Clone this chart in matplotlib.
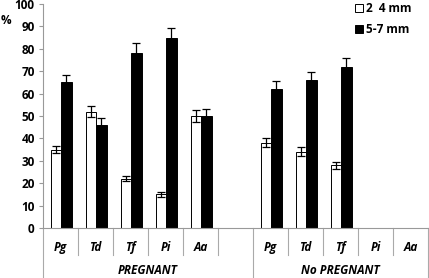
import numpy as np
import matplotlib.pyplot as plt

plt.rcParams['font.family'] = ['Open Sans', 'DejaVu Sans']
plt.rcParams['font.weight'] = 'bold'

# Datos
species = ['Pg', 'Td', 'Tf', 'Pi', 'Aa', '', 'Pg', 'Td', 'Tf', 'Pi', 'Aa']
groups = ['PREGNANT', 'No PREGNANT']
small = [35, 52, 22, 15, 50, np.nan, 38, 34, 28, np.nan, np.nan]
small_err = [1.5, 2.5, 1, 1, 2.5, np.nan, 2, 2, 1.5, np.nan, np.nan]
large = [65, 46, 78, 85, 50, np.nan, 62, 66, 72, np.nan, np.nan]
large_err = [3.5, 3, 4.5, 4.5, 3, np.nan, 3.5, 3.5, 4, np.nan, np.nan]

fig = plt.figure(figsize=(4.29, 2.78), dpi=100)
ax = fig.add_axes([43 / 429, 50 / 278, 385 / 429, 224 / 278])

x = np.arange(len(species))
w = 0.3
ekw = dict(ecolor='black', elinewidth=0.9, capsize=3, capthick=0.9)
ax.bar(x + 0.37, small, w, yerr=small_err, color='white', edgecolor='black',
       linewidth=0.7, error_kw=ekw, label='2  4 mm')
ax.bar(x + 0.67, large, w, yerr=large_err, color='black', edgecolor='black',
       linewidth=0.7, error_kw=ekw, label='5-7 mm')

ax.set_xlim(0, len(species))
ax.set_ylim(0, 100)
ax.set_yticks(range(0, 101, 10))
ax.tick_params(axis='y', labelsize=8.5, length=3, color='#999999', pad=3)
ax.set_xticks([])
for s in ['top', 'right']:
    ax.spines[s].set_visible(False)
for s in ['left', 'bottom']:
    ax.spines[s].set_color('#999999')
    ax.spines[s].set_linewidth(0.8)

# Etiquetas de categorías y separadores
tr = ax.get_xaxis_transform()
for i, sp in enumerate(species):
    ax.text(i + 0.5, -0.085, sp, transform=tr, ha='center', va='center',
            fontsize=8.5, style='italic')
for i in range(len(species) + 1):
    y0 = -0.225 if i in (0, 6, 11) else -0.12
    ax.plot([i, i], [0, y0], transform=tr, color='#aaaaaa', lw=0.8,
            clip_on=False)
ax.text(3, -0.19, groups[0], transform=tr, ha='center', va='center',
        fontsize=8.5, style='italic')
ax.text(8.5, -0.19, groups[1], transform=tr, ha='center', va='center',
        fontsize=8.5, style='italic')

fig.text(1 / 429, 1 - 20 / 278, '%', fontsize=8.5, va='center')

ax.legend(loc='upper left', bbox_to_anchor=(355 / 429, 1 - 2 / 278),
          bbox_transform=fig.transFigure, frameon=False, fontsize=8.5,
          handlelength=0.7, handleheight=0.7, handletextpad=0.2,
          labelspacing=0.7, borderpad=0, borderaxespad=0)

fig.savefig('out.png', dpi=100)
